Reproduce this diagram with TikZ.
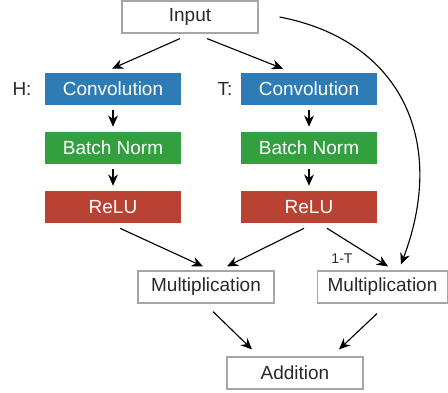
\documentclass[tikz,border=0pt]{standalone}
\usepackage{fontspec}
\setmainfont{Liberation Sans}
\usepackage{xcolor}
\usepackage{tikz}
\usetikzlibrary{arrows.meta, calc}

\definecolor{convblue}{RGB}{46,124,182}
\definecolor{normgreen}{RGB}{50,160,62}
\definecolor{relured}{RGB}{185,66,50}
\definecolor{txtgray}{RGB}{40,40,40}

\tikzset{
    opbox/.style={draw=gray!70, line width=0.8pt, fill=white, minimum width=136*0.025cm, minimum height=32*0.025cm, inner sep=0pt, text=txtgray, font=\fontsize{13.5}{15}\selectfont},
    layer/.style={minimum width=136*0.025cm, minimum height=32*0.025cm, inner sep=0pt, text=white, font=\fontsize{13.5}{15}\selectfont},
    flow/.style={-{Stealth[length=8pt, width=7pt]}, line width=0.8pt, black}
}

\begin{document}
\begin{tikzpicture}[x=0.025cm, y=-0.025cm]
        \useasboundingbox (0, 0) rectangle (448, 393);

        \node[opbox] (in) at (190, 17) {Input};

        \node[layer, fill=convblue] (hconv) at (113, 89) {Convolution};
        \node[layer, fill=normgreen] (hbn) at (113, 148) {Batch Norm};
        \node[layer, fill=relured] (hrelu) at (113, 207) {ReLU};
        \node[text=txtgray, font=\fontsize{13.5}{15}\selectfont] (hlab) at (22, 89) {H:};

        \node[layer, fill=convblue] (tconv) at (309, 89) {Convolution};
        \node[layer, fill=normgreen] (tbn) at (309, 148) {Batch Norm};
        \node[layer, fill=relured] (trelu) at (309, 207) {ReLU};
        \node[text=txtgray, font=\fontsize{13.5}{15}\selectfont] (tlab) at (225, 89) {T:};

        \node[opbox] (mulh) at (206, 287) {Multiplication};
        \node[opbox, minimum width=130*0.025cm] (mult) at (382.5, 287) {Multiplication};
        \node[opbox] (add) at (295, 373) {Addition};

        % input to both branches
        \draw[flow] ($(in.south)+(-10, 5)$) -- ($(hconv.north)+(-1, -4)$);
        \draw[flow] ($(in.south)+(17, 5)$) -- ($(tconv.north)+(-26, -4)$);

        % inside the branches
        \draw[flow] ($(hconv.south)+(0, 5)$) -- ($(hbn.north)+(0, -5)$);
        \draw[flow] ($(hbn.south)+(0, 5)$) -- ($(hrelu.north)+(0, -5)$);
        \draw[flow] ($(tconv.south)+(0, 5)$) -- ($(tbn.north)+(0, -5)$);
        \draw[flow] ($(tbn.south)+(0, 5)$) -- ($(trelu.north)+(0, -5)$);

        % gates
        \draw[flow] ($(hrelu.south)+(7, 5)$) -- ($(mulh.north)+(-3, -4)$);
        \draw[flow] ($(trelu.south)+(-5, 5)$) -- ($(mulh.north)+(21, -4)$);
        \draw[flow] ($(trelu.south)+(18, 5)$) -- ($(mult.north)+(5.5, -4)$);
        \node[text=txtgray, font=\fontsize{10}{12}\selectfont] (onet) at (342, 259) {1-T};

        % carry path
        \draw[flow] ($(in.east)+(21, 0)$) .. controls (400, 40) and (448, 140) .. ($(mult.north)+(18.5, -6)$);

        \draw[flow] ($(mulh.south)+(7, 8)$) -- ($(add.north)+(-43, -7)$);
        \draw[flow] ($(mult.south)+(-5.5, 10)$) -- ($(add.north)+(44, -7)$);
    \end{tikzpicture}
\end{document}
